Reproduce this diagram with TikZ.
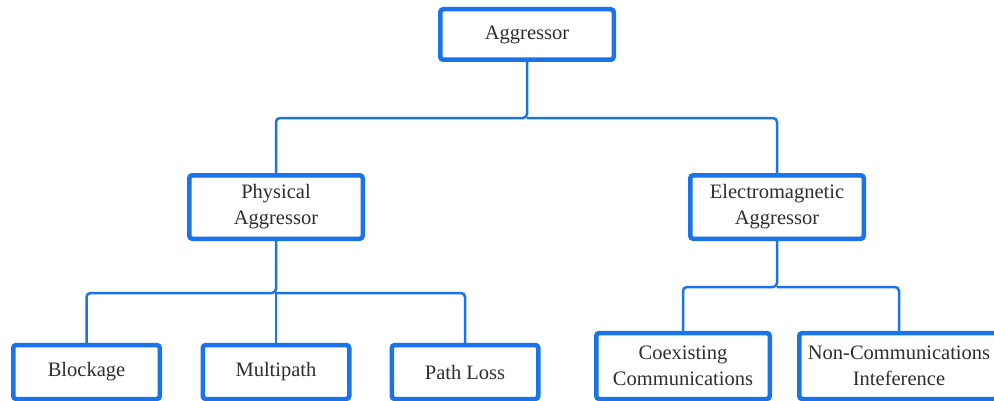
\documentclass[tikz,border=0pt]{standalone}
\usepackage{fontspec}
\setmainfont{Liberation Serif}
\definecolor{boxblue}{HTML}{1A73E8}
\definecolor{txt}{HTML}{2E2E2E}
\tikzset{
  box/.style={draw=boxblue, line width=4.5pt, rounded corners=3pt, fill=white,
    inner sep=0pt, align=center, text=txt, font=\fontsize{20.5}{26}\selectfont},
  link/.style={draw=boxblue, line width=2.5pt, rounded corners=4pt}
}
\begin{document}
\begin{tikzpicture}[x=1pt,y=1pt]
\useasboundingbox (0,0) rectangle (994,400);
\clip (0,0) rectangle (994,400);
\node[box, minimum width=173.5pt, minimum height=50.5pt] (agg) at (527,365.5) {Aggressor};
\node[box, minimum width=173.5pt, minimum height=63.5pt] (phy) at (276,193) {Physical\\Aggressor};
\node[box, minimum width=173.5pt, minimum height=63.5pt] (em) at (777,193) {Electromagnetic\\Aggressor};
\node[box, minimum width=146.5pt, minimum height=54pt] (blk) at (86.5,28) {Blockage};
\node[box, minimum width=146.5pt, minimum height=54pt] (mp) at (276,28) {Multipath};
\node[box, minimum width=146.5pt, minimum height=54pt] (pl) at (465,28) {Path Loss};
\node[box, minimum width=173.5pt, minimum height=66pt] (coex) at (683,34) {Coexisting\\Communications};
\node[box, minimum width=199.5pt, minimum height=66pt] (nci) at (899,34) {Non-Communications\\Inteference};
\coordinate (b1) at (527,282);
\coordinate (b2) at (276,107);
\coordinate (b3) at (777,113);
\draw[link] (agg.south) -- (b1) -| (phy.north);
\draw[link] (b1) -| (em.north);
\draw[link] (phy.south) -- (b2) -| (blk.north);
\draw[link] (b2) -| (pl.north);
\draw[link] (b2) -- (mp.north);
\draw[link] (em.south) -- (b3) -| (coex.north);
\draw[link] (b3) -| (nci.north);
\end{tikzpicture}
\end{document}
